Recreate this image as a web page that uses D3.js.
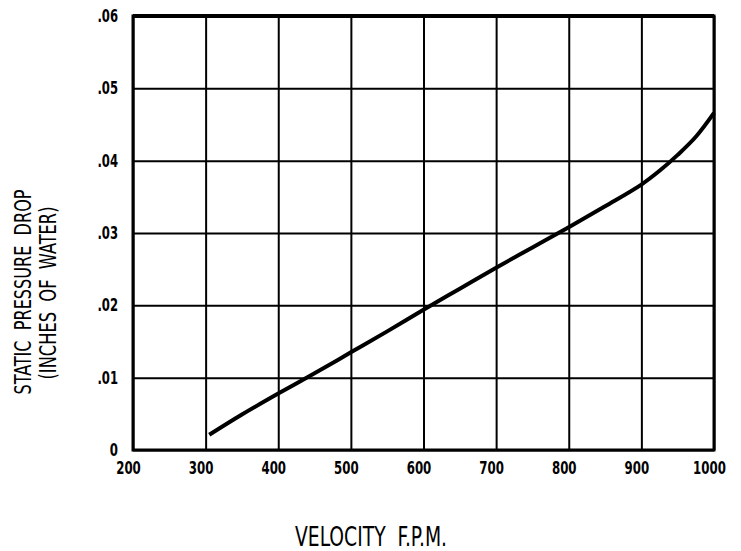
<!DOCTYPE html>
<html>
<head>
<meta charset="utf-8">
<script src="https://cdn.jsdelivr.net/npm/d3@7"></script>
<style>
  body { margin: 0; background: #fff; }
  svg { display: block; }
  .tick text { font-family: "DejaVu Sans Condensed", "Liberation Sans Narrow", sans-serif; font-weight: bold; font-size: 17px; fill: #000; }
  .lbl { font-family: "DejaVu Sans Condensed", "Liberation Sans Narrow", sans-serif; fill: #000; white-space: pre; }
</style>
</head>
<body>
<div class="chart"></div>
<script>
// chart size
const WIDTH = 741;
const HEIGHT = 551;

// data
const velocity = [305, 350, 400, 450, 500, 550, 600, 650, 700, 750, 800, 850, 900, 925, 950, 975, 1000];
const pressure = [0.0021, 0.0049, 0.0078, 0.0106, 0.0135, 0.0164, 0.0194, 0.0223, 0.0252, 0.0280, 0.0308, 0.0337, 0.0367, 0.0386, 0.0408, 0.0433, 0.0466];

const xTicks = [200, 300, 400, 500, 600, 700, 800, 900, 1000];
const yTicks = [0, 0.01, 0.02, 0.03, 0.04, 0.05, 0.06];

const xTitle = "VELOCITY  F.P.M.";
const yTitle = ["STATIC  PRESSURE  DROP", "(INCHES  OF  WATER)"];

const M = { left: 133, right: 714, top: 16, bottom: 450 };

// squeeze tick text to the narrow lettering of the original
const squeeze = s => s.length * 8.2 - (s.includes(".") ? 4 : 0);

const svg = d3.select(".chart").append("svg")
  .attr("width", WIDTH)
  .attr("height", HEIGHT);

const x = d3.scaleLinear().domain([200, 1000]).range([M.left, M.right]);
const y = d3.scaleLinear().domain([0, 0.06]).range([M.bottom, M.top]);

// x axis with grid
const xAxis = svg.append("g")
  .attr("transform", `translate(0,${M.bottom})`)
  .call(d3.axisBottom(x).tickValues(xTicks).tickFormat(d3.format("d"))
    .tickSizeInner(-(M.bottom - M.top)).tickSizeOuter(0).tickPadding(12));
xAxis.select(".domain").remove();
xAxis.selectAll(".tick line").attr("stroke", "#000").attr("stroke-width", 2);
xAxis.selectAll(".tick text").attr("dx", -5)
  .attr("textLength", function() { return squeeze(this.textContent); })
  .attr("lengthAdjust", "spacingAndGlyphs");

// y axis with grid
const yAxis = svg.append("g")
  .attr("transform", `translate(${M.left},0)`)
  .call(d3.axisLeft(y).tickValues(yTicks)
    .tickFormat(d => d === 0 ? "0" : d3.format(".2f")(d).replace(/^0/, ""))
    .tickSizeInner(-(M.right - M.left)).tickSizeOuter(0).tickPadding(15));
yAxis.select(".domain").remove();
yAxis.selectAll(".tick line").attr("stroke", "#000").attr("stroke-width", 2);
yAxis.selectAll(".tick text")
  .attr("textLength", function() { return squeeze(this.textContent); })
  .attr("lengthAdjust", "spacingAndGlyphs");

// frame
svg.append("rect")
  .attr("x", M.left).attr("y", M.top)
  .attr("width", M.right - M.left).attr("height", M.bottom - M.top)
  .attr("fill", "none").attr("stroke", "#000").attr("stroke-width", 3);
svg.append("line")
  .attr("x1", M.left).attr("x2", M.right).attr("y1", M.top).attr("y2", M.top)
  .attr("stroke", "#000").attr("stroke-width", 4);

// curve
const line = d3.line()
  .x((d, i) => x(velocity[i]))
  .y(d => y(d))
  .curve(d3.curveCatmullRom.alpha(0.5));

svg.append("path")
  .datum(pressure)
  .attr("d", line)
  .attr("fill", "none")
  .attr("stroke", "#000")
  .attr("stroke-width", 4);

// titles
svg.append("text").attr("class", "lbl")
  .attr("x", 371).attr("y", 546)
  .attr("text-anchor", "middle")
  .attr("font-size", 27)
  .attr("textLength", 152).attr("lengthAdjust", "spacingAndGlyphs")
  .text(xTitle);

yTitle.forEach((t, i) => {
  svg.append("text").attr("class", "lbl")
    .attr("transform", `translate(${[31, 56][i]},${[292, 293][i]}) rotate(-90)`)
    .attr("text-anchor", "middle")
    .attr("font-size", 23)
    .attr("textLength", [205, 173][i]).attr("lengthAdjust", "spacingAndGlyphs")
    .text(t);
});
</script>
</body>
</html>
